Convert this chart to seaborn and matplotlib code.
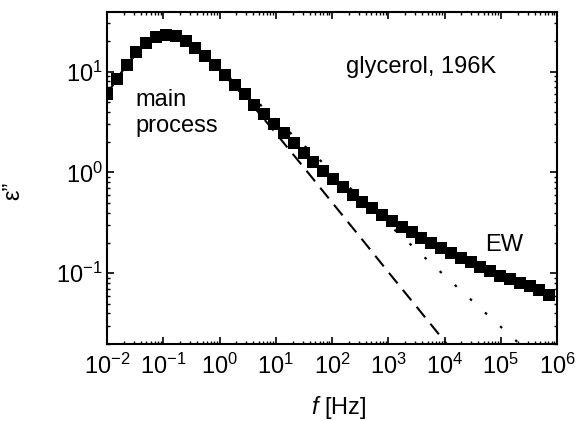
import numpy as np
import pandas as pd
import matplotlib
matplotlib.use("Agg")
import matplotlib.pyplot as plt
import seaborn as sns
from matplotlib.ticker import LogLocator, NullFormatter

# ---- data ----
freq_hz = [0.01, 0.01496, 0.0224, 0.0334, 0.0501, 0.0748, 0.1117, 0.167, 0.250, 0.373,
           0.558, 0.836, 1.247, 1.866, 2.79, 4.17, 6.24, 9.33, 13.96, 20.8,
           31.2, 46.7, 69.7, 104.2, 156, 233, 348, 521, 780, 1164,
           1742, 2606, 3890, 5821, 8710, 13000, 19450, 29100, 43550, 65000,
           97300, 145500, 217300, 325100, 486400, 726100]
eps_loss = [6.0, 8.5, 11.7, 15.6, 19.3, 22.1, 23.3, 22.4, 20.3, 17.2,
            14.4, 11.7, 9.3, 7.4, 5.95, 4.7, 3.8, 3.02, 2.45, 1.95,
            1.57, 1.28, 1.04, 0.86, 0.72, 0.60, 0.51, 0.44, 0.377, 0.329,
            0.289, 0.254, 0.224, 0.200, 0.179, 0.159, 0.143, 0.129, 0.116, 0.105,
            0.095, 0.087, 0.080, 0.074, 0.068, 0.061]

main_freq = [0.01, 0.0224, 0.0501, 0.1117, 0.25, 0.558, 1.247, 2.79, 5.0, 10.0,
             31.6, 100, 316, 1000, 3162, 10000, 31620]
main_eps = [6.0, 11.7, 19.2, 23.2, 20.2, 14.3, 9.1, 5.6, 3.9, 2.45,
            1.12, 0.505, 0.229, 0.103, 0.0468, 0.0212, 0.0096]

total_freq = [0.01, 0.0224, 0.0501, 0.1117, 0.25, 0.558, 1.247, 2.51, 5.62, 13.6,
              39.8, 148, 398, 1413, 3981, 10000, 39810, 160300, 398100]
total_eps = [6.0, 11.7, 19.3, 23.3, 20.3, 14.5, 9.5, 6.9, 4.55, 2.86,
             1.65, 0.84, 0.50, 0.258, 0.152, 0.095, 0.047, 0.0232, 0.0146]

x_ticks = [1e-2, 1e-1, 1e0, 1e1, 1e2, 1e3, 1e4, 1e5, 1e6]
y_ticks = [1e-1, 1e0, 1e1]

sns.set_theme(style="ticks")
plt.rcParams["font.family"] = ["Liberation Sans", "DejaVu Sans"]
plt.rcParams["mathtext.fontset"] = "custom"
plt.rcParams["mathtext.rm"] = "Liberation Sans"
plt.rcParams["mathtext.it"] = "Liberation Sans:italic"
plt.rcParams["mathtext.default"] = "regular"
plt.rcParams["text.color"] = "black"
plt.rcParams["axes.labelcolor"] = "black"
plt.rcParams["xtick.color"] = "black"
plt.rcParams["ytick.color"] = "black"

df_data = pd.DataFrame({"f": freq_hz, "eps": eps_loss})
df_main = pd.DataFrame({"f": main_freq, "eps": main_eps})
df_total = pd.DataFrame({"f": total_freq, "eps": total_eps})

fig = plt.figure(figsize=(5.8, 4.21), dpi=100)
ax = fig.add_axes([0.18448, 0.1829, 0.7759, 0.7886])
ax.set_xscale("log")
ax.set_yscale("log")

sns.lineplot(data=df_main, x="f", y="eps", ax=ax, color="black", lw=1.5,
             linestyle=(0, (6.5, 4)), zorder=2)
sns.lineplot(data=df_total, x="f", y="eps", ax=ax, color="black", lw=1.6,
             linestyle=(0, (1.2, 8.0)), zorder=2)
sns.lineplot(data=df_data, x="f", y="eps", ax=ax, color="black", lw=1.2,
             marker="s", markersize=8.6, markeredgewidth=0, zorder=3)

ax.set_xlim(1e-2, 1e6)
ax.set_ylim(0.0199, 39)
ax.set_xticks(x_ticks)
ax.set_yticks(y_ticks)
ax.xaxis.set_minor_locator(LogLocator(base=10, subs=np.arange(2, 10), numticks=20))
ax.yaxis.set_minor_locator(LogLocator(base=10, subs=np.arange(2, 10), numticks=20))
ax.xaxis.set_minor_formatter(NullFormatter())
ax.yaxis.set_minor_formatter(NullFormatter())

for s in ax.spines.values():
    s.set_linewidth(1.5)
    s.set_color("black")
ax.tick_params(which="both", direction="in", top=True, right=True, colors="black",
               labelsize=17)
ax.tick_params(which="major", length=5, width=1.2)
ax.tick_params(which="minor", length=2.5, width=1.0)
ax.tick_params(axis="x", which="major", pad=7)
ax.tick_params(axis="y", which="major", pad=3)

ax.set_xlabel(r"$\mathit{f}$ [Hz]", fontsize=17)
ax.set_ylabel("ε\u201d", fontsize=17)
ax.xaxis.set_label_coords(0.515, -0.15)
ax.yaxis.set_label_coords(-0.183, 0.46)

ax.text(3800, 11.2, "glycerol, 196K", fontsize=17, ha="center", va="center")
ax.text(0.0315, 3.87, "main\nprocess", fontsize=17, ha="left", va="center")
ax.text(52000, 0.192, "EW", fontsize=17, ha="left", va="center")

fig.savefig("out.png", dpi=100, facecolor="white")
